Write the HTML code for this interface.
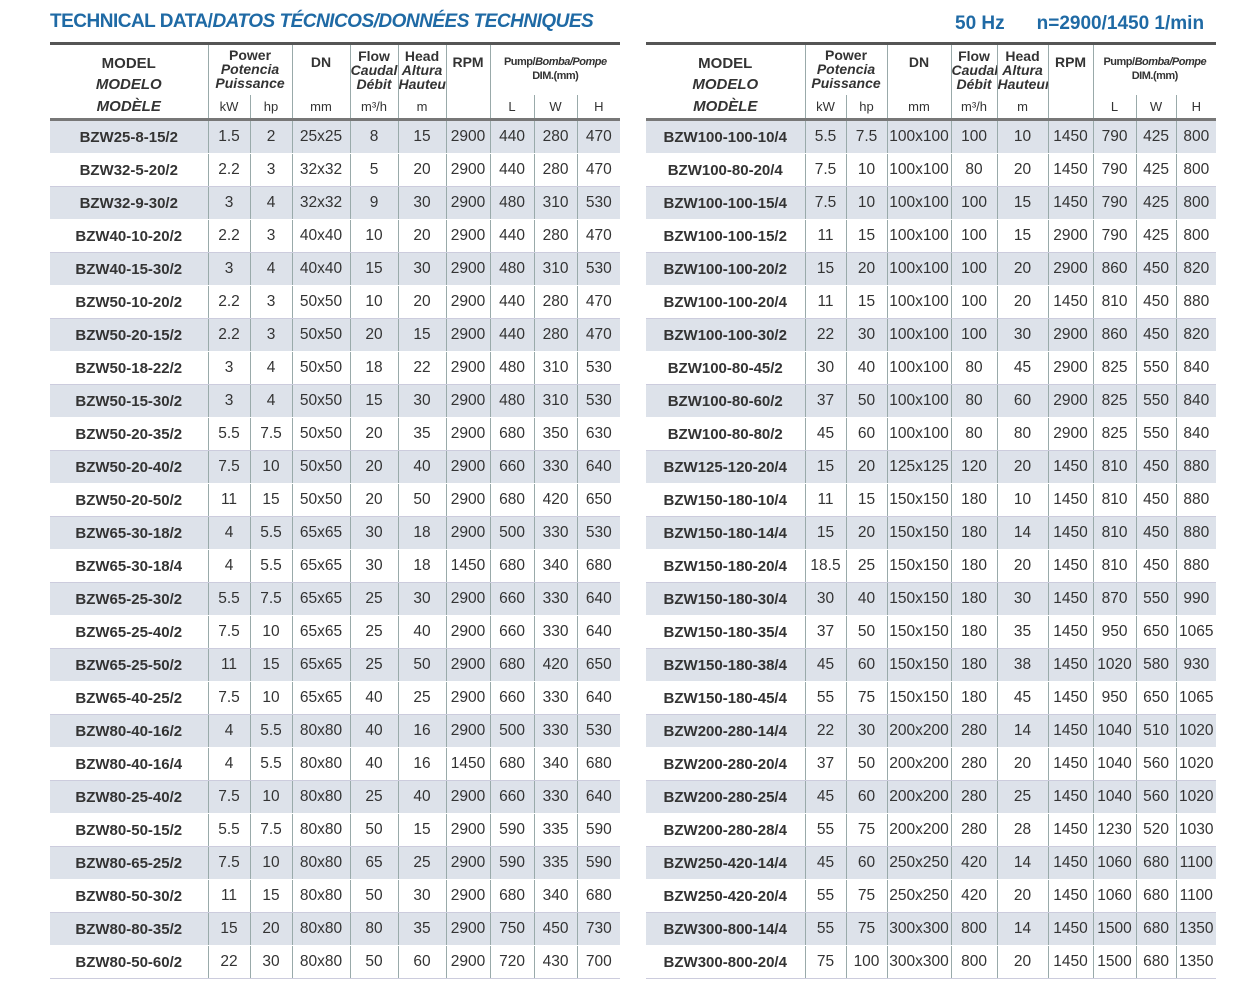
<!DOCTYPE html><html><head><style>
body{margin:0;width:1254px;height:1000px;background:#fff;font-family:"Liberation Sans",sans-serif;color:#333;position:relative;overflow:hidden}
.t{position:absolute;top:11px;left:50px;font-size:19px;font-weight:bold;color:#1f6aa5;letter-spacing:-0.5px}
.hz{position:absolute;top:13px;left:955px;font-size:19px;font-weight:bold;color:#1f6aa5;white-space:nowrap}
table{position:absolute;top:42px;border-collapse:collapse;table-layout:fixed;border-top:3px solid #555}
td{padding:0;text-align:center;font-size:15.5px;height:32px;border-left:1px solid #9aa;border-bottom:1px solid #fff;white-space:nowrap;overflow:hidden}
td:first-child{border-left:none;font-weight:bold;font-size:15px}
tbody tr:nth-child(odd) td{background:#dde2ea}
tbody tr:nth-child(even) td{border-bottom:1px solid #ccd}
thead td{height:auto;font-weight:bold;font-size:14px;line-height:15px;vertical-align:top;background:#fff;border-bottom:none}
thead tr.u td{font-weight:normal;font-size:13px;height:23px;vertical-align:middle;border-bottom:3px solid #777}
.i{font-style:italic}
.s{font-size:11px;letter-spacing:-0.5px}
</style></head><body>
<div class="t">TECHNICAL DATA/<i>DATOS TÉCNICOS/DONNÉES TECHNIQUES</i></div>
<div class="hz">50 Hz<span style="display:inline-block;width:32px"></span>n=2900/1450 1/min</div>
<table id="a" style="left:50px;width:570px"></table>
<table id="b" style="left:646px;width:570px"></table>
<script>
const L=`BZW25-8-15/2|1.5|2|25x25|8|15|2900|440|280|470
BZW32-5-20/2|2.2|3|32x32|5|20|2900|440|280|470
BZW32-9-30/2|3|4|32x32|9|30|2900|480|310|530
BZW40-10-20/2|2.2|3|40x40|10|20|2900|440|280|470
BZW40-15-30/2|3|4|40x40|15|30|2900|480|310|530
BZW50-10-20/2|2.2|3|50x50|10|20|2900|440|280|470
BZW50-20-15/2|2.2|3|50x50|20|15|2900|440|280|470
BZW50-18-22/2|3|4|50x50|18|22|2900|480|310|530
BZW50-15-30/2|3|4|50x50|15|30|2900|480|310|530
BZW50-20-35/2|5.5|7.5|50x50|20|35|2900|680|350|630
BZW50-20-40/2|7.5|10|50x50|20|40|2900|660|330|640
BZW50-20-50/2|11|15|50x50|20|50|2900|680|420|650
BZW65-30-18/2|4|5.5|65x65|30|18|2900|500|330|530
BZW65-30-18/4|4|5.5|65x65|30|18|1450|680|340|680
BZW65-25-30/2|5.5|7.5|65x65|25|30|2900|660|330|640
BZW65-25-40/2|7.5|10|65x65|25|40|2900|660|330|640
BZW65-25-50/2|11|15|65x65|25|50|2900|680|420|650
BZW65-40-25/2|7.5|10|65x65|40|25|2900|660|330|640
BZW80-40-16/2|4|5.5|80x80|40|16|2900|500|330|530
BZW80-40-16/4|4|5.5|80x80|40|16|1450|680|340|680
BZW80-25-40/2|7.5|10|80x80|25|40|2900|660|330|640
BZW80-50-15/2|5.5|7.5|80x80|50|15|2900|590|335|590
BZW80-65-25/2|7.5|10|80x80|65|25|2900|590|335|590
BZW80-50-30/2|11|15|80x80|50|30|2900|680|340|680
BZW80-80-35/2|15|20|80x80|80|35|2900|750|450|730
BZW80-50-60/2|22|30|80x80|50|60|2900|720|430|700`;
const R=`BZW100-100-10/4|5.5|7.5|100x100|100|10|1450|790|425|800
BZW100-80-20/4|7.5|10|100x100|80|20|1450|790|425|800
BZW100-100-15/4|7.5|10|100x100|100|15|1450|790|425|800
BZW100-100-15/2|11|15|100x100|100|15|2900|790|425|800
BZW100-100-20/2|15|20|100x100|100|20|2900|860|450|820
BZW100-100-20/4|11|15|100x100|100|20|1450|810|450|880
BZW100-100-30/2|22|30|100x100|100|30|2900|860|450|820
BZW100-80-45/2|30|40|100x100|80|45|2900|825|550|840
BZW100-80-60/2|37|50|100x100|80|60|2900|825|550|840
BZW100-80-80/2|45|60|100x100|80|80|2900|825|550|840
BZW125-120-20/4|15|20|125x125|120|20|1450|810|450|880
BZW150-180-10/4|11|15|150x150|180|10|1450|810|450|880
BZW150-180-14/4|15|20|150x150|180|14|1450|810|450|880
BZW150-180-20/4|18.5|25|150x150|180|20|1450|810|450|880
BZW150-180-30/4|30|40|150x150|180|30|1450|870|550|990
BZW150-180-35/4|37|50|150x150|180|35|1450|950|650|1065
BZW150-180-38/4|45|60|150x150|180|38|1450|1020|580|930
BZW150-180-45/4|55|75|150x150|180|45|1450|950|650|1065
BZW200-280-14/4|22|30|200x200|280|14|1450|1040|510|1020
BZW200-280-20/4|37|50|200x200|280|20|1450|1040|560|1020
BZW200-280-25/4|45|60|200x200|280|25|1450|1040|560|1020
BZW200-280-28/4|55|75|200x200|280|28|1450|1230|520|1030
BZW250-420-14/4|45|60|250x250|420|14|1450|1060|680|1100
BZW250-420-20/4|55|75|250x250|420|20|1450|1060|680|1100
BZW300-800-14/4|55|75|300x300|800|14|1450|1500|680|1350
BZW300-800-20/4|75|100|300x300|800|20|1450|1500|680|1350`;
function build(id,data,w){
 let h='<colgroup>'+w.map(x=>`<col style="width:${x}px">`).join('')+'</colgroup><thead>';
 h+=`<tr><td style="padding-top:8px;font-size:15px;line-height:21px">MODEL<br><span class="i">MODELO</span></td>
 <td colspan="2" style="padding-top:3px;line-height:14px">Power<br><span class="i">Potencia<br>Puissance</span></td>
 <td style="padding-top:10px">DN</td>
 <td style="padding-top:4px;line-height:14px">Flow<br><span class="i">Caudal<br>Débit</span></td>
 <td style="padding-top:4px;line-height:14px">Head<br><span class="i">Altura<br>Hauteur</span></td>
 <td style="padding-top:10px">RPM</td>
 <td colspan="3" class="s" style="padding-top:10px;line-height:14px">Pump/<i>Bomba/Pompe</i><br>DIM.(mm)</td></tr>`;
 h+='<tr class="u"><td style="font-weight:bold;font-style:italic;font-size:15px">MODÈLE</td><td>kW</td><td>hp</td><td>mm</td><td>m³/h</td><td>m</td><td></td><td>L</td><td>W</td><td>H</td></tr></thead><tbody>';
 for(const r of data.split('\n'))h+='<tr>'+r.split('|').map(c=>`<td>${c}</td>`).join('')+'</tr>';
 document.getElementById(id).innerHTML=h+'</tbody>';
}
build('a',L,[158,42,42,58,48,48,44,44,43,43]);
build('b',R,[159,41,41,64,46,51,45,43,40,40]);
</script>
</body></html>
